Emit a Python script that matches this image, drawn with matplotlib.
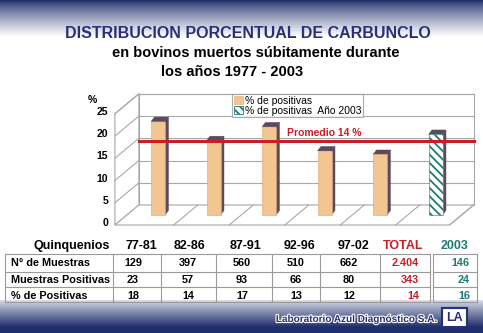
import numpy as np
import matplotlib.pyplot as plt
from matplotlib.patches import Polygon, Rectangle, Patch
import matplotlib.patheffects as pe

plt.rcParams['font.family'] = ['Liberation Sans', 'DejaVu Sans']
plt.rcParams['hatch.linewidth'] = 1.3

# Datos del gráfico (alturas tal como se ven dibujadas)
periodos = ['77-81', '82-86', '87-91', '92-96', '97-02']
pct_barras = [21.0, 16.7, 19.8, 14.4, 13.6]
pct_2003 = 18.1
promedio = 16.6
y_ticks = [0, 5, 10, 15, 20, 25]

# Datos de la tabla
filas = ['N° de Muestras', 'Muestras Positivas', '% de Positivas']
muestras = [129, 397, 560, 510, 662]
positivas = [23, 57, 93, 66, 80]
porcentaje = [18, 14, 17, 13, 12]
total = ['2.404', '343', '14']
anio_2003 = [146, 24, 16]

W, H = 483, 333
NAVY = np.array([0.12, 0.18, 0.42])
PEACH = '#f3c590'
SIDE = '#5b4a5e'
TEAL = '#1f7a74'
RED = '#c81e26'
GRID = '#a8a8a8'

fig = plt.figure(figsize=(W / 100, H / 100), dpi=100)

# Fondo con degradados (ejes en pixeles)
bg = fig.add_axes([0, 0, 1, 1])
bg.set_xlim(0, W)
bg.set_ylim(H, 0)
bg.axis('off')
prof = np.ones((H, 3))
for y in range(H):
    if y < 36:
        t = (y / 36) ** 0.8
        prof[y] = NAVY * (1 - t) + np.array([1, 1, 1]) * t
    elif y >= 300:
        t = min((y - 300) / 27, 1) ** 0.9
        prof[y] = np.array([0.85, 0.87, 0.91]) * (1 - t) + NAVY * t
img = np.repeat(prof[:, None, :], 2, axis=1)
bg.imshow(img, extent=[0, W, H, 0], aspect='auto', zorder=0)

# Títulos
bg.text(248, 33, 'DISTRIBUCION PORCENTUAL DE CARBUNCLO', ha='center', va='center',
        fontsize=11.5, fontweight='bold', color='#2a2f78')
bg.text(256, 53, 'en bovinos muertos súbitamente durante', ha='center', va='center',
        fontsize=10.5, fontweight='bold', color='black')
bg.text(232, 72, 'los años 1977 - 2003', ha='center', va='center',
        fontsize=10.5, fontweight='bold', color='black')

# Ejes del gráfico: escala en px -> datos
X0, SX = 158, 55.5
Y0, SY = 215, 4.45
L, R, T, B = 100, 480, 88, 235
ax = fig.add_axes([L / W, 1 - B / H, (R - L) / W, (B - T) / H])
ax.set_xlim((L - X0) / SX, (R - X0) / SX)
ax.set_ylim((Y0 - B) / SY, (Y0 - T) / SY)
ax.axis('off')
ax.patch.set_alpha(0)

DX, DY = 12 / SX, 10 / SY
xi, xd = -0.56, 5.47
top = y_ticks[-1]

# paredes y piso en perspectiva
ax.add_patch(Polygon([(xi + DX, DY), (xd + DX, DY), (xd + DX, top + DY), (xi + DX, top + DY)],
                     closed=True, facecolor='white', edgecolor=GRID, lw=0.8, zorder=1))
ax.add_patch(Polygon([(xi - DX, -DY), (xi + DX, DY), (xi + DX, top + DY), (xi - DX, top - DY)],
                     closed=True, facecolor='white', edgecolor=GRID, lw=0.8, zorder=1))
ax.add_patch(Polygon([(xi - DX, -DY), (xd - DX, -DY), (xd + DX, DY), (xi + DX, DY)],
                     closed=True, facecolor='white', edgecolor=GRID, lw=0.8, zorder=1))
for v in y_ticks[1:]:
    ax.plot([xi + DX, xd + DX], [v + DY, v + DY], color=GRID, lw=0.8, zorder=1.5)
    ax.plot([xi - DX, xi + DX], [v - DY, v + DY], color=GRID, lw=0.8, zorder=1.5)
for k in range(len(periodos)):
    ax.plot([k + 0.5 - DX, k + 0.5 + DX], [-DY, DY], color=GRID, lw=0.8, zorder=1.5)
ax.plot([xd - DX, xd + DX], [-DY, DY], color=GRID, lw=0.8, zorder=1.5)

# barras
x = np.arange(len(periodos) + 1)
valores = pct_barras + [pct_2003]
bw = 14 / SX
barras = ax.bar(x, valores, width=bw, color=PEACH, edgecolor='#d9a870', lw=0.4, zorder=3)
b6 = barras[-1]
b6.set_facecolor('white')
b6.set_edgecolor(TEAL)
b6.set_hatch('\\\\\\\\')
ddx, ddy = 3.5 / SX, 4.5 / SY
for b in barras:
    x1 = b.get_x() + b.get_width()
    x0 = b.get_x()
    h = b.get_height()
    ax.add_patch(Polygon([(x1, 0), (x1 + ddx, ddy), (x1 + ddx, h + ddy), (x1, h)],
                         closed=True, facecolor=SIDE, edgecolor=SIDE, lw=0.3, zorder=2.9))
    ax.add_patch(Polygon([(x0, h), (x1, h), (x1 + ddx, h + ddy), (x0 + ddx, h + ddy)],
                         closed=True, facecolor=SIDE, edgecolor=SIDE, lw=0.3, zorder=2.9))

# línea de promedio
ax.plot([xi + DX, xd + DX], [promedio, promedio], color=RED, lw=2.2, zorder=4)
ax.text(2.32, promedio + 1.8, 'Promedio 14 %', color=RED, fontsize=7.5,
        fontweight='bold', va='center', ha='left', zorder=5)

# etiquetas eje y
for v in y_ticks:
    ax.text(-0.90, v - 1.85, str(v), ha='right', va='center', fontsize=7.5,
            fontweight='bold', clip_on=False)
ax.text(-1.26, 25.8, '%', ha='left', va='center', fontsize=7.5, fontweight='bold', clip_on=False)

# leyenda
handles = [Patch(facecolor=PEACH, edgecolor='#d9a870', lw=0.4),
           Patch(facecolor='white', edgecolor=TEAL, hatch='\\\\\\\\', lw=0.6)]
leg = fig.legend(handles, ['% de positivas', '% de positivas  Año 2003'],
                 loc='upper left', bbox_to_anchor=(232 / W, 1 - 94 / H), fontsize=7.5,
                 frameon=True, fancybox=False, borderpad=0.15, labelspacing=0.0,
                 handlelength=0.9, handleheight=0.8, handletextpad=0.2, borderaxespad=0)
leg.get_frame().set_edgecolor('#999999')
leg.get_frame().set_linewidth(0.8)
leg.set_zorder(10)

# tabla
cols_x = [141, 190, 245, 300, 354]
val_x = [133, 188, 242, 296, 349]
bg.text(72, 246, 'Quinquenios', ha='center', va='center', fontsize=9, fontweight='bold')
for cx, p in zip(cols_x, periodos):
    bg.text(cx, 246, p, ha='center', va='center', fontsize=9, fontweight='bold')
bg.text(403, 246, 'TOTAL', ha='center', va='center', fontsize=9, fontweight='bold', color=RED)
bg.text(455, 246, '2003', ha='center', va='center', fontsize=9, fontweight='bold', color=TEAL)

hl = [254, 272, 287, 302]
for yy in hl:
    bg.plot([5, 430], [yy, yy], color='#9a9a9a', lw=0.8)
    bg.plot([433, 477], [yy, yy], color='#9a9a9a', lw=0.8)
for xx in [5, 113, 161, 216, 272, 320, 380, 430, 433, 477]:
    bg.plot([xx, xx], [hl[0], hl[-1]], color='#9a9a9a', lw=0.8)

row_y = [263, 280, 296]
datos = [muestras, positivas, porcentaje]
for ry, nombre, fila, tot, a3 in zip(row_y, filas, datos, total, anio_2003):
    bg.text(11, ry, nombre, ha='left', va='center', fontsize=7.8, fontweight='bold')
    for vx, v in zip(val_x, fila):
        bg.text(vx, ry, str(v), ha='center', va='center', fontsize=7.8, fontweight='bold')
    bg.text(419, ry, tot, ha='right', va='center', fontsize=7.8, fontweight='bold', color=RED)
    bg.text(470, ry, str(a3), ha='right', va='center', fontsize=7.8, fontweight='bold', color=TEAL)

# pie
bg.text(437, 319, 'Laboratorio Azul Diagnóstico S.A.', ha='right', va='center',
        fontsize=7.2, fontweight='bold', color='#26307a',
        path_effects=[pe.withStroke(linewidth=1.6, foreground='white')])
bg.add_patch(Rectangle((442, 308), 25, 19, facecolor='white', edgecolor='#26307a', lw=1.5))
bg.text(454.5, 318, 'LA', ha='center', va='center', fontsize=9, fontweight='bold', color='#26307a')

fig.savefig('out.png', dpi=100)
